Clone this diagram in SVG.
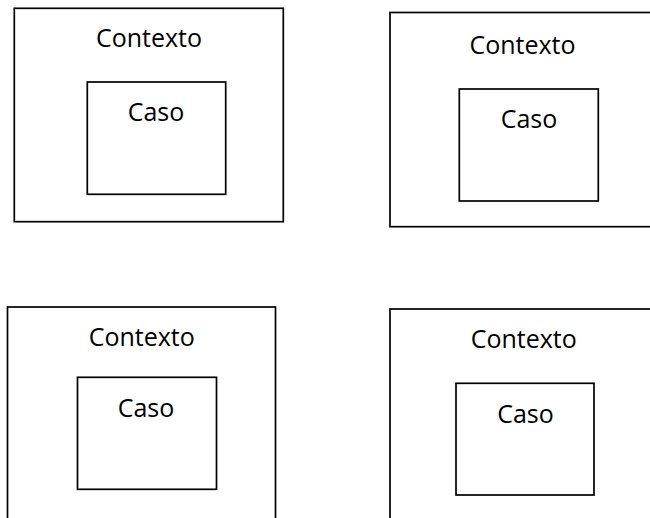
<svg xmlns="http://www.w3.org/2000/svg" width="650" height="518" viewBox="0 0 650 518">
<style>
rect{fill:none;stroke:#000;stroke-width:1.7}
text{font-family:"Open Sans","Noto Sans",sans-serif;font-size:25px;fill:#000;text-anchor:middle}
</style>
<rect x="0" y="0" width="650" height="518" style="fill:#fff;stroke:none"/>
<g id="contexto1">
<rect x="14.3" y="8.3" width="269" height="213.4"/>
<text x="149" y="47">Contexto</text>
<g id="caso1">
<rect x="87.3" y="82" width="138.4" height="112.3"/>
<text x="156" y="121">Caso</text>
</g>
</g>
<g id="contexto2">
<rect x="390" y="12.5" width="280" height="214.2"/>
<text x="522.5" y="53.5">Contexto</text>
<g id="caso2">
<rect x="459.3" y="89" width="139" height="112"/>
<text x="529" y="128">Caso</text>
</g>
</g>
<g id="contexto3">
<rect x="7.5" y="307" width="268" height="230"/>
<text x="141.7" y="346">Contexto</text>
<g id="caso3">
<rect x="77.5" y="377.3" width="139" height="112"/>
<text x="146" y="417">Caso</text>
</g>
</g>
<g id="contexto4">
<rect x="390" y="309" width="280" height="230"/>
<text x="523.7" y="348.3">Contexto</text>
<g id="caso4">
<rect x="456" y="383.3" width="138" height="111.7"/>
<text x="525.5" y="422.7">Caso</text>
</g>
</g>
<g id="connectors"/>
</svg>
